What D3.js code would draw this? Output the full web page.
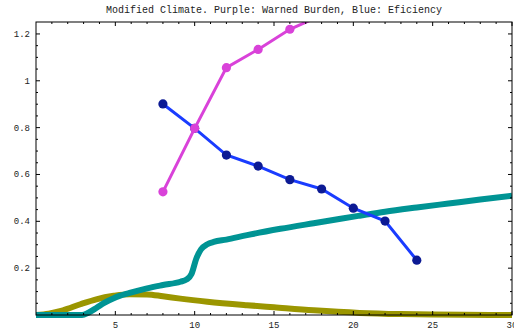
<!DOCTYPE html>
<html lang="en">
<head>
<meta charset="UTF-8">
<title>Modified Climate</title>
<script src="https://unpkg.com/d3@7.8.5/dist/d3.min.js"></script>
<style>
  * { margin: 0; padding: 0; }
  body { background: #fff; overflow: hidden; }
  text { font-family: "Liberation Mono", "DejaVu Sans Mono", monospace; fill: #222; }
</style>
</head>
<body>
<svg width="514" height="336"></svg>
<script>
// purple: warned burden
const burdenX = [8, 10, 12, 14, 16, 18]
const burdenY = [0.526, 0.797, 1.056, 1.134, 1.22, 1.28]
// blue: efficiency
const effX = [8, 10, 12, 14, 16, 18, 20, 22, 24]
const effY = [0.901, 0.797, 0.683, 0.636, 0.578, 0.538, 0.456, 0.401, 0.234]
// teal curve
const tealX = [0, 1, 2, 2.9, 3.3, 3.8, 4.3, 4.9, 5.9, 7, 8, 9.1, 9.5, 9.8, 10.1, 10.4, 10.8, 11.2, 12, 13.3, 15.4, 17.5, 19.2, 20.4, 22, 24, 26, 28, 30]
const tealY = [0, 0, 0, 0, 0.01, 0.03, 0.052, 0.072, 0.094, 0.114, 0.128, 0.142, 0.152, 0.175, 0.24, 0.28, 0.302, 0.312, 0.322, 0.341, 0.368, 0.392, 0.411, 0.424, 0.441, 0.459, 0.476, 0.493, 0.509]
// olive curve
const oliveX = [0, 0.8, 1.7, 2.8, 3.8, 4.9, 5.9, 7, 8, 9.1, 10.8, 13.3, 15, 17.5, 20.4, 23, 25, 27, 30]
const oliveY = [0, 0.006, 0.02, 0.046, 0.067, 0.082, 0.089, 0.088, 0.08, 0.07, 0.057, 0.042, 0.033, 0.02, 0.009, 0.004, 0.002, 0.001, 0]

const xTicks = [5, 10, 15, 20, 25, 30]
const yTicks = [0.2, 0.4, 0.6, 0.8, 1, 1.2]

const pLeft = 36, pRight = 512, pTop = 22, pBottom = 315

const svg = d3.select('svg')
const x = d3.scaleLinear().domain([0, 30]).range([pLeft, pRight])
const y = d3.scaleLinear().domain([0, 1.251]).range([pBottom, pTop])

svg.append('text')
  .attr('x', 274).attr('y', 13)
  .attr('text-anchor', 'middle')
  .style('font-size', '10px')
  .text('Modified Climate. Purple: Warned Burden, Blue: Eficiency')

svg.append('clipPath').attr('id', 'clip')
  .append('rect')
  .attr('x', pLeft).attr('y', pTop)
  .attr('width', pRight - pLeft).attr('height', pBottom - pTop + 10)

const plot = svg.append('g').attr('clip-path', 'url(#clip)')

const curve = d3.line().x(d => x(d[0])).y(d => y(d[1])).curve(d3.curveMonotoneX)
const straight = d3.line().x(d => x(d[0])).y(d => y(d[1]))

plot.append('path')
  .datum(d3.zip(oliveX, oliveY))
  .attr('d', curve)
  .attr('fill', 'none').attr('stroke', '#9b9600').attr('stroke-width', 6)

plot.append('path')
  .datum(d3.zip(tealX, tealY))
  .attr('d', curve)
  .attr('fill', 'none').attr('stroke', '#009494').attr('stroke-width', 6)

// blue line + dots
const eff = d3.zip(effX, effY)
plot.append('path').datum(eff).attr('d', straight)
  .attr('fill', 'none').attr('stroke', '#1a3cff').attr('stroke-width', 3)
plot.selectAll('.eff').data(eff).enter().append('circle')
  .attr('cx', d => x(d[0])).attr('cy', d => y(d[1])).attr('r', 4.6)
  .attr('fill', '#0c1a94')

// purple line + dots
const burden = d3.zip(burdenX, burdenY)
plot.append('path').datum(burden).attr('d', straight)
  .attr('fill', 'none').attr('stroke', '#d942d9').attr('stroke-width', 3)
plot.selectAll('.bur').data(burden).enter().append('circle')
  .attr('cx', d => x(d[0])).attr('cy', d => y(d[1])).attr('r', 4.6)
  .attr('fill', '#d942d9')

// frame
const frame = svg.append('g')
frame.append('rect')
  .attr('x', pLeft).attr('y', pTop)
  .attr('width', pRight - pLeft).attr('height', pBottom - pTop)
  .attr('fill', 'none').attr('stroke', '#000').attr('stroke-width', 1)

// ticks, pointing inward on all sides
const xMinor = d3.range(1, 30).filter(v => v % 5 !== 0)
const yMinor = d3.range(0.05, 1.25, 0.05).filter(v => Math.abs(v / 0.2 - Math.round(v / 0.2)) > 0.01)

function xt(vals, len) {
  vals.forEach(v => {
    frame.append('line').attr('x1', x(v)).attr('x2', x(v)).attr('y1', pBottom).attr('y2', pBottom - len).attr('stroke', '#000')
    frame.append('line').attr('x1', x(v)).attr('x2', x(v)).attr('y1', pTop).attr('y2', pTop + len).attr('stroke', '#000')
  })
}
function yt(vals, len) {
  vals.forEach(v => {
    frame.append('line').attr('y1', y(v)).attr('y2', y(v)).attr('x1', pLeft).attr('x2', pLeft + len).attr('stroke', '#000')
    frame.append('line').attr('y1', y(v)).attr('y2', y(v)).attr('x1', pRight).attr('x2', pRight - len).attr('stroke', '#000')
  })
}
xt(xTicks, 4); xt(xMinor, 2)
yt(yTicks, 4); yt(yMinor, 2)

frame.selectAll('.xl').data(xTicks).enter().append('text')
  .attr('x', d => x(d)).attr('y', pBottom + 13)
  .attr('text-anchor', 'middle').style('font-size', '9px')
  .text(d => d)

frame.selectAll('.yl').data(yTicks).enter().append('text')
  .attr('x', pLeft - 6).attr('y', d => y(d) + 3)
  .attr('text-anchor', 'end').style('font-size', '9px')
  .text(d => d)
</script>
</body>
</html>
